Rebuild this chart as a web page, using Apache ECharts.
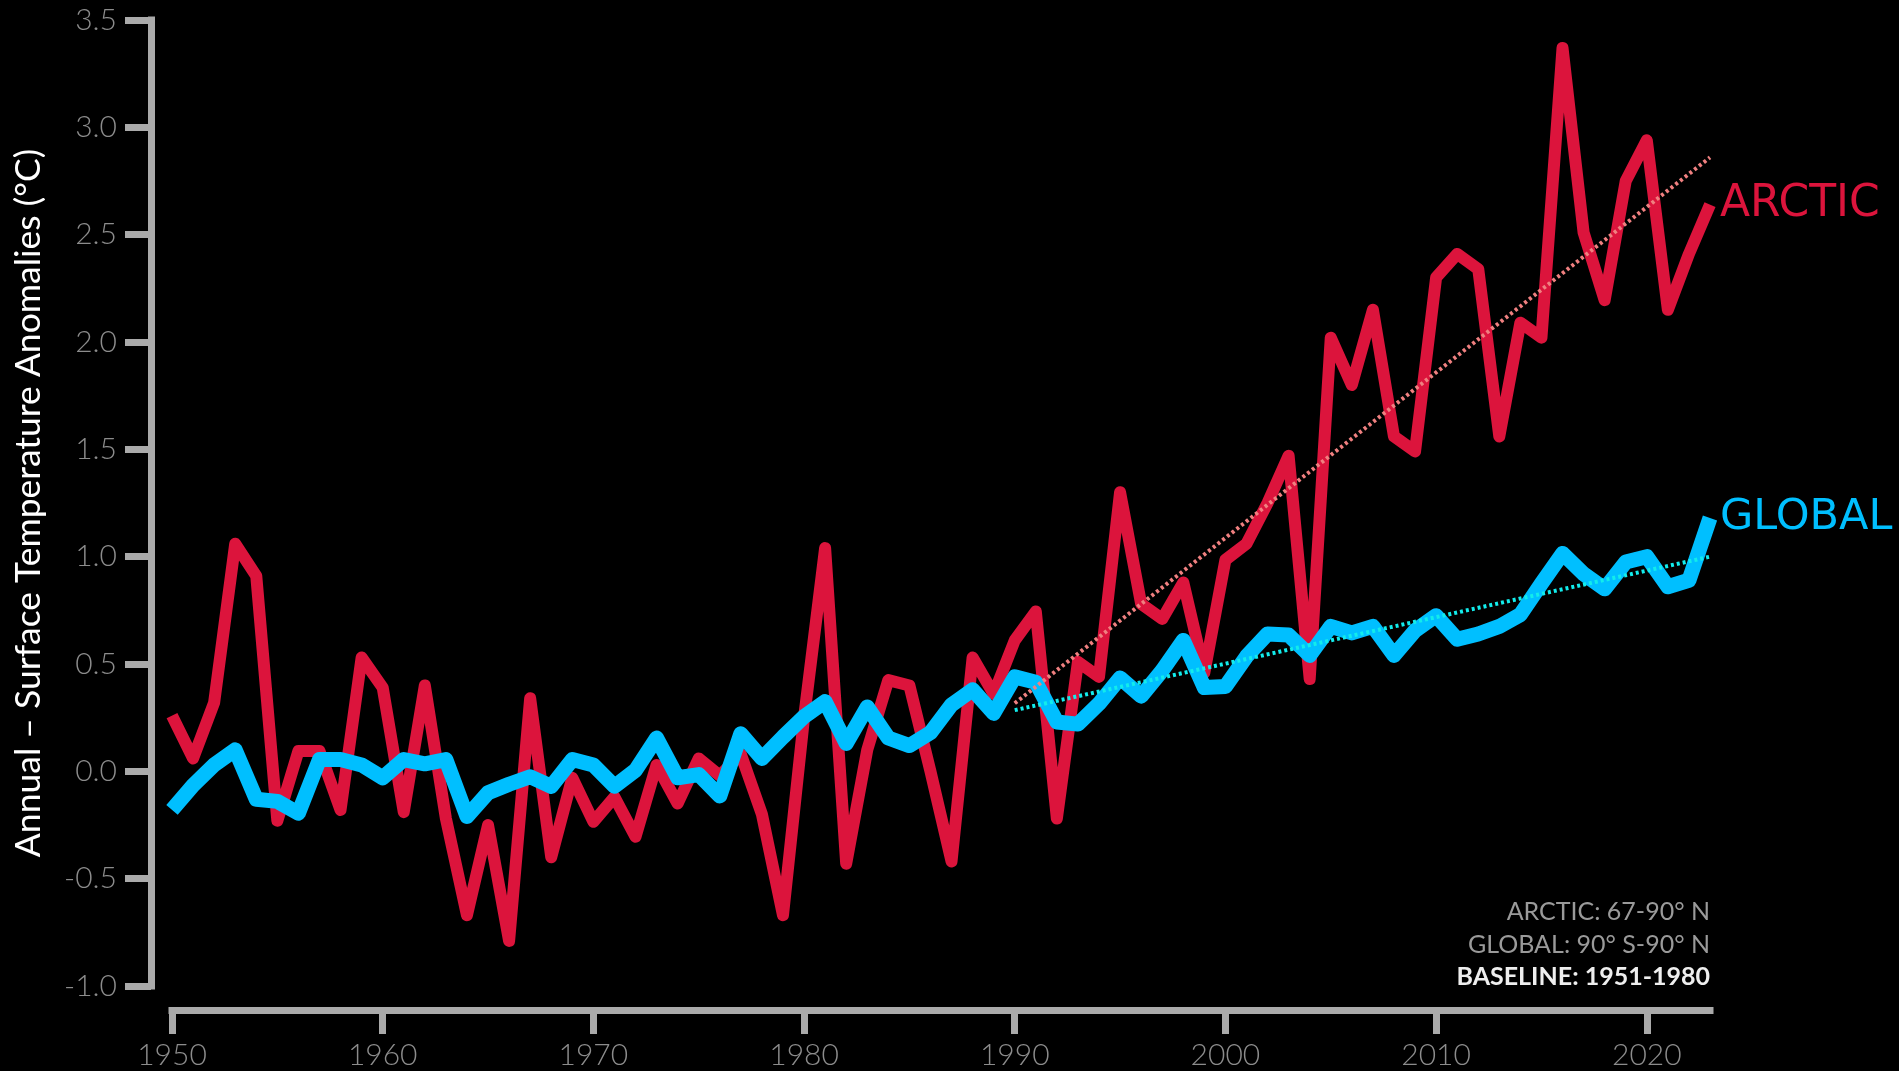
<!DOCTYPE html>
<html>
<head>
<meta charset="utf-8">
<script src="https://cdn.jsdelivr.net/npm/echarts@6/dist/echarts.min.js"></script>
<style>
html,body{margin:0;padding:0;background:#000;}
#chart{width:1899px;height:1071px;}
</style>
</head>
<body>
<div id="chart"></div>
<script>
// ---- data ----
const years = [1950,1951,1952,1953,1954,1955,1956,1957,1958,1959,1960,1961,1962,1963,1964,1965,1966,1967,1968,1969,1970,1971,1972,1973,1974,1975,1976,1977,1978,1979,1980,1981,1982,1983,1984,1985,1986,1987,1988,1989,1990,1991,1992,1993,1994,1995,1996,1997,1998,1999,2000,2001,2002,2003,2004,2005,2006,2007,2008,2009,2010,2011,2012,2013,2014,2015,2016,2017,2018,2019,2020,2021,2022,2023];
const arctic = [0.26,0.06,0.32,1.06,0.91,-0.23,0.095,0.095,-0.18,0.53,0.39,-0.19,0.40,-0.22,-0.67,-0.25,-0.79,0.34,-0.40,-0.03,-0.235,-0.12,-0.305,0.03,-0.15,0.06,-0.02,0.08,-0.20,-0.67,0.25,1.04,-0.43,0.10,0.425,0.40,0.00,-0.42,0.53,0.36,0.61,0.745,-0.22,0.51,0.44,1.30,0.78,0.71,0.88,0.46,0.985,1.06,1.25,1.47,0.43,2.02,1.80,2.15,1.56,1.49,2.30,2.41,2.34,1.56,2.09,2.02,3.37,2.51,2.195,2.75,2.94,2.15,2.41,2.64];
const global = [-0.18,-0.065,0.03,0.10,-0.13,-0.14,-0.195,0.055,0.055,0.03,-0.03,0.055,0.035,0.055,-0.21,-0.10,-0.06,-0.025,-0.07,0.055,0.03,-0.07,0.005,0.155,-0.03,-0.015,-0.115,0.175,0.06,0.16,0.255,0.325,0.13,0.30,0.155,0.12,0.18,0.31,0.38,0.27,0.44,0.415,0.23,0.22,0.315,0.435,0.35,0.47,0.61,0.39,0.395,0.535,0.64,0.635,0.54,0.675,0.645,0.675,0.54,0.655,0.725,0.615,0.64,0.675,0.73,0.875,1.015,0.92,0.85,0.975,1.00,0.86,0.89,1.18];
const arcticTrendYears = [1990, 2023];
const arcticTrend = [0.317, 2.86];
const globalTrendYears = [1990, 2023];
const globalTrend = [0.285, 1.00];
const xTickValues = [1950,1960,1970,1980,1990,2000,2010,2020];
const yMin = -1.0, yMax = 3.5, yStep = 0.5;
const seriesNames = ['ARCTIC', 'GLOBAL'];
const yAxisTitle = 'Annual – Surface Temperature Anomalies (°C)';
const notes = ['ARCTIC: 67-90° N', 'GLOBAL: 90° S-90° N', 'BASELINE: 1951-1980'];

// ---- chart ----
const pairs = (xs, ys) => xs.map((x, i) => [x, ys[i]]);
const chart = echarts.init(document.getElementById('chart'), null, {renderer: 'canvas'});
const axisGrey = '#aaaaaa';
const labelGrey = '#8c8c8c';
const FONT = 'Lato, "Open Sans", sans-serif';

chart.setOption({
  backgroundColor: '#000000',
  animation: false,
  grid: {left: 172, right: 189, top: 20, bottom: 85, containLabel: false},
  xAxis: {
    type: 'value', min: 1950, max: 2023,
    offset: 24,
    axisLine: {show: true, onZero: false, lineStyle: {color: axisGrey, width: 7, cap: 'square'}},
    axisTick: {show: true, length: 24, customValues: xTickValues, lineStyle: {color: axisGrey, width: 7}},
    axisLabel: {show: true, customValues: xTickValues, margin: 30, color: labelGrey,
      fontFamily: FONT, fontSize: 30, fontWeight: 300, formatter: v => String(v)},
    splitLine: {show: false}
  },
  yAxis: {
    type: 'value', min: yMin, max: yMax, interval: yStep,
    offset: 21,
    name: yAxisTitle, nameLocation: 'middle', nameRotate: 90, nameGap: 104,
    nameTextStyle: {color: '#ffffff', fontFamily: FONT, fontSize: 35.5},
    axisLine: {show: true, onZero: false, lineStyle: {color: axisGrey, width: 7, cap: 'square'}},
    axisTick: {show: true, length: 26, lineStyle: {color: axisGrey, width: 7}},
    axisLabel: {show: true, margin: 34, color: labelGrey, fontFamily: FONT, fontSize: 30, fontWeight: 300,
      formatter: v => v.toFixed(1)},
    splitLine: {show: false}
  },
  series: [
    {
      name: seriesNames[0], type: 'line', data: pairs(years, arctic),
      showSymbol: false, symbol: 'none', z: 2,
      lineStyle: {color: '#dc143c', width: 12, join: 'round'},
      endLabel: {show: true, formatter: seriesNames[0], color: '#dc143c', fontFamily: '"DejaVu Sans", sans-serif',
        fontSize: 44, distance: 10}
    },
    {
      name: seriesNames[1], type: 'line', data: pairs(years, global),
      showSymbol: false, symbol: 'none', z: 3,
      lineStyle: {color: '#00bfff', width: 15, join: 'round'},
      endLabel: {show: true, formatter: seriesNames[1], color: '#00bfff', fontFamily: '"DejaVu Sans", sans-serif',
        fontSize: 43, distance: 10}
    },
    {
      name: 'ARCTIC trend', type: 'line', data: pairs(arcticTrendYears, arcticTrend),
      showSymbol: false, symbol: 'none', z: 4,
      lineStyle: {color: '#f08080', width: 4, type: [3, 3]}
    },
    {
      name: 'GLOBAL trend', type: 'line', data: pairs(globalTrendYears, globalTrend),
      showSymbol: false, symbol: 'none', z: 5,
      lineStyle: {color: '#12ecec', width: 4, type: [3, 3]}
    }
  ],
  graphic: [
    {type: 'text', x: 1710, y: 912, style: {text: notes[0], fill: '#9a9a9a', font: '25px ' + FONT, align: 'right', verticalAlign: 'middle'}},
    {type: 'text', x: 1710, y: 945, style: {text: notes[1], fill: '#9a9a9a', font: '25px ' + FONT, align: 'right', verticalAlign: 'middle'}},
    {type: 'text', x: 1710, y: 977, style: {text: notes[2], fill: '#eeeeee', font: 'bold 25px ' + FONT, align: 'right', verticalAlign: 'middle'}}
  ]
});
</script>
</body>
</html>
